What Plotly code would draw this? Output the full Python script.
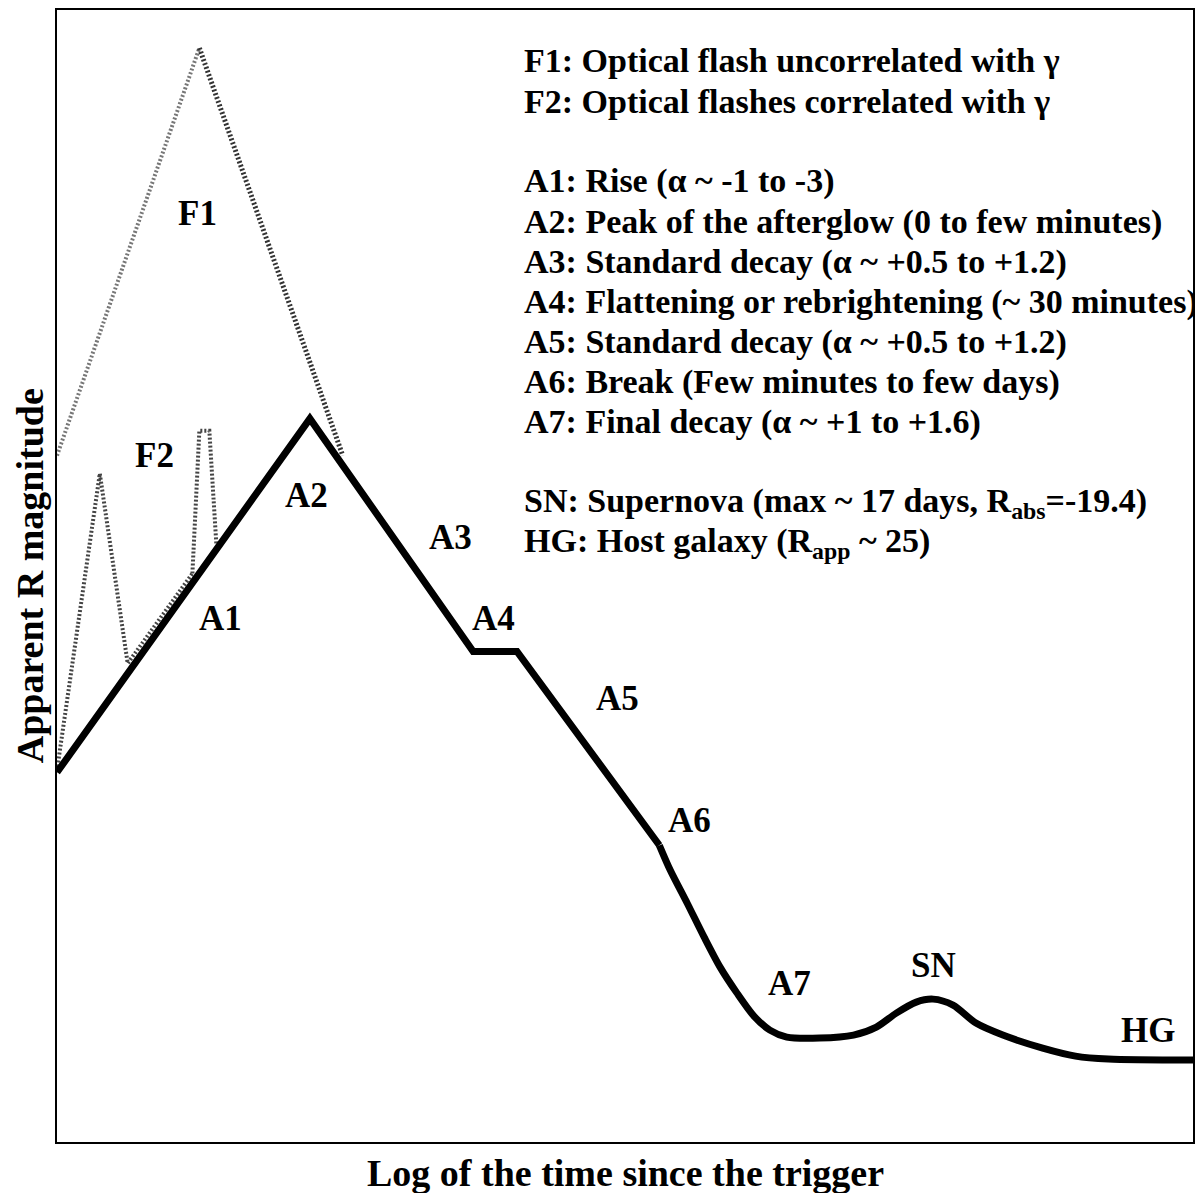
import plotly.graph_objects as go

# main afterglow light curve (x: log time, y: magnitude, axis reversed)
main_x = [0, 254, 418, 462, 605]
main_y = [763, 409, 642, 642, 836]
tail_x = [605, 616, 633, 650, 666, 683, 700, 716, 733, 766, 800, 823, 843, 863, 880, 900, 923, 950, 990, 1023, 1056, 1141]
tail_y = [836, 861, 894, 928, 958, 984, 1007, 1021, 1028, 1029, 1026, 1018, 1004, 993, 990, 996, 1014, 1026, 1039, 1047, 1050, 1051]

# F1 flash (uncorrelated)
f1_rise_x = [0, 143]
f1_rise_y = [446, 38]
f1_fall_x = [143, 287]
f1_fall_y = [38, 446]

# F2 flashes (correlated with gamma)
f2a_x = [0, 43, 71, 136]
f2a_y = [761, 464, 654, 564]
f2b_x = [136, 143, 153, 160]
f2b_y = [564, 421, 421, 534]

labels = ["F1", "F2", "A1", "A2", "A3", "A4", "A5", "A6", "A7", "SN", "HG"]
label_x = [141, 98, 164, 251, 395, 438, 563, 635, 736, 880, 1096]
label_y = [204, 446, 609, 486, 528, 609, 689, 811, 974, 956, 1021]

legend_lines = [
    "F1: Optical flash uncorrelated with γ",
    "F2: Optical flashes correlated with γ",
    "",
    "A1: Rise (α ~ -1 to -3)",
    "A2: Peak of the afterglow (0 to few minutes)",
    "A3: Standard decay (α ~ +0.5 to +1.2)",
    "A4: Flattening or rebrightening (~ 30 minutes)",
    "A5: Standard decay (α ~ +0.5 to +1.2)",
    "A6: Break (Few minutes to few days)",
    "A7: Final decay (α ~ +1 to +1.6)",
    "",
    "SN: Supernova (max ~ 17 days, R<sub>abs</sub>=-19.4)",
    "HG: Host galaxy (R<sub>app</sub> ~ 25)",
]

FONT = "Liberation Serif, Times New Roman, serif"

fig = go.Figure()
dash = "2px,2px"
fig.add_trace(go.Scatter(x=f1_rise_x, y=f1_rise_y, mode="lines",
                         line=dict(color="#777777", width=4, dash=dash)))
fig.add_trace(go.Scatter(x=f1_fall_x, y=f1_fall_y, mode="lines",
                         line=dict(color="#333333", width=5, dash=dash)))
fig.add_trace(go.Scatter(x=f2a_x, y=f2a_y, mode="lines",
                         line=dict(color="#444444", width=4, dash=dash)))
fig.add_trace(go.Scatter(x=f2b_x, y=f2b_y, mode="lines",
                         line=dict(color="#444444", width=4, dash=dash)))
fig.add_trace(go.Scatter(x=main_x, y=main_y, mode="lines",
                         line=dict(color="black", width=7)))
fig.add_trace(go.Scatter(x=tail_x, y=tail_y, mode="lines",
                         line=dict(color="black", width=7, shape="spline", smoothing=0.8)))

for t, x, y in zip(labels, label_x, label_y):
    fig.add_annotation(x=x, y=y, text=t, showarrow=False,
                       font=dict(family=FONT, size=35, color="black", weight="bold"))

for i, t in enumerate(legend_lines):
    if not t:
        continue
    fig.add_annotation(x=467, y=51 + i * 40.2, text=t, showarrow=False,
                       xanchor="left", yanchor="middle",
                       font=dict(family=FONT, size=34, color="black", weight="bold"))

# axis titles
fig.add_annotation(xref="paper", yref="paper", x=0.5, y=-0.007, yanchor="top",
                   text="Log of the time since the trigger", showarrow=False,
                   font=dict(family=FONT, size=38, color="black", weight="bold"))
fig.add_annotation(xref="paper", yref="paper", x=-0.0235, y=0.5, xanchor="center",
                   textangle=-90, text="Apparent R magnitude", showarrow=False,
                   font=dict(family=FONT, size=38, color="black", weight="bold"))

# page body adds ~8px offset, so size the figure to fit inside the window
fig.update_layout(
    width=1187, height=1185,
    margin=dict(l=49, r=0, t=1, b=51),
    paper_bgcolor="white", plot_bgcolor="white",
    showlegend=False,
)
fig.update_xaxes(range=[0, 1141], showticklabels=False, ticks="", showgrid=False,
                 zeroline=False, showline=True, mirror=True, linecolor="black", linewidth=2)
fig.update_yaxes(range=[1133, 0], showticklabels=False, ticks="", showgrid=False,
                 zeroline=False, showline=True, mirror=True, linecolor="black", linewidth=2)

fig.write_html("out.html")
